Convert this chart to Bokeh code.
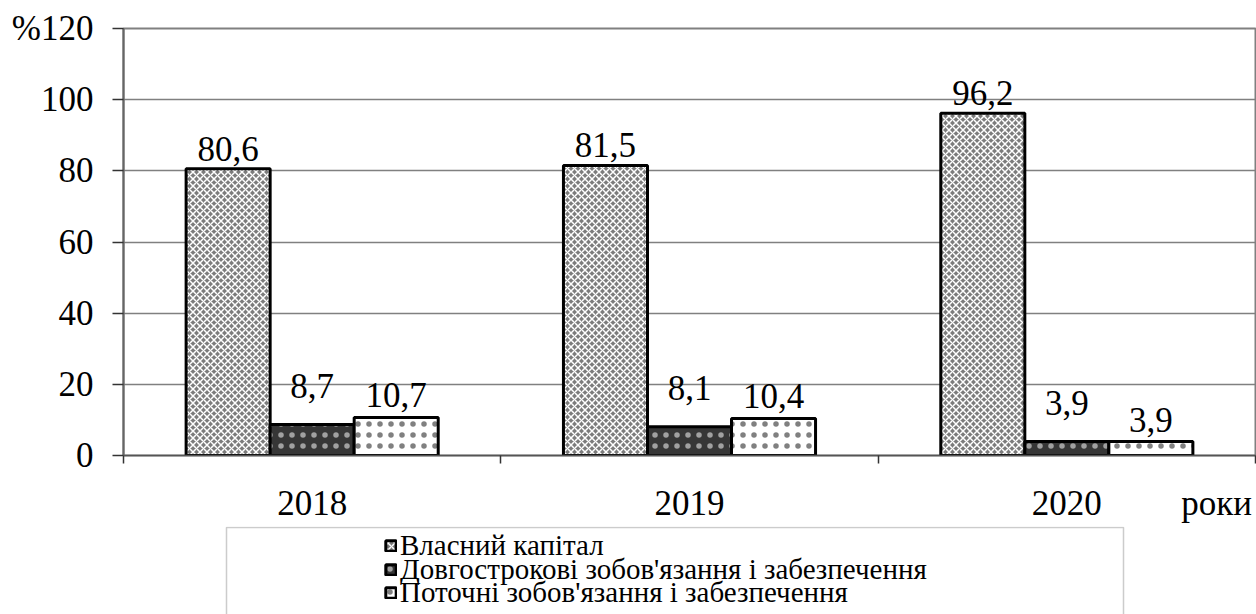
from bokeh.plotting import figure
from bokeh.layouts import column
from bokeh.models import Range1d, FixedTicker, Legend, LegendItem, BoxAnnotation
from bokeh.core.properties import value
from bokeh.embed import file_html
from bokeh.resources import INLINE

# Capital structure shares, %
years = ["2018", "2019", "2020"]
equity = [80.6, 81.5, 96.2]
long_term = [8.7, 8.1, 3.9]
current = [10.7, 10.4, 3.9]
series_names = [
    "Власний капітал",
    "Довгострокові зобов'язання і забезпечення",
    "Поточні зобов'язання і забезпечення",
]
y_ticks = [0, 20, 40, 60, 80, 100, 120]
x_unit_label = "роки"

FONT = "'Liberation Serif', 'Times New Roman', serif"
LEGEND_FONT = "Times New Roman"
GRID = "#808080"

n = len(years)
centers = [i + 0.5 for i in range(n)]
bar_w = 0.2227
unit_pos = n - 0.103  # where the "years" caption sits on the category axis

p = figure(
    width=1256, height=526, output_backend="svg", toolbar_location=None,
    x_range=Range1d(0, n), y_range=Range1d(0, 120),
    min_border_left=123, min_border_right=1, min_border_top=28, min_border_bottom=71,
)
p.background_fill_color = "white"
p.border_fill_color = "white"
p.outline_line_color = GRID
p.outline_line_width = 2

# y axis
p.yaxis.ticker = FixedTicker(ticks=y_ticks)
p.yaxis.major_label_overrides = {y_ticks[-1]: "%" + str(y_ticks[-1])}
p.yaxis.major_label_text_font = FONT
p.yaxis.major_label_text_font_size = "35px"
p.yaxis.major_label_text_color = "black"
p.yaxis.major_label_standoff = 19
p.yaxis.major_tick_out = 11
p.yaxis.major_tick_in = 0
p.yaxis.major_tick_line_color = "#333333"
p.yaxis.major_tick_line_width = 1.5
p.yaxis.minor_tick_line_color = None
p.yaxis.axis_line_color = "#666666"
p.yaxis.axis_line_width = 2

# x axis: labels at the category centres, ticks on the boundaries
p.xaxis.ticker = FixedTicker(ticks=centers + [unit_pos], minor_ticks=list(range(n + 1)))
overrides = {c: y for c, y in zip(centers, years)}
overrides[unit_pos] = x_unit_label
p.xaxis.major_label_overrides = overrides
p.xaxis.major_label_text_font = FONT
p.xaxis.major_label_text_font_size = "35px"
p.xaxis.major_label_text_color = "black"
p.xaxis.major_label_standoff = 20
p.xaxis.major_tick_line_color = None
p.xaxis.major_tick_out = 0
p.xaxis.major_tick_in = 0
p.xaxis.minor_tick_out = 8
p.xaxis.minor_tick_in = 0
p.xaxis.minor_tick_line_color = "#333333"
p.xaxis.minor_tick_line_width = 1.5
p.xaxis.axis_line_color = "#555555"
p.xaxis.axis_line_width = 1.5

p.xgrid.grid_line_color = None
p.ygrid.grid_line_color = GRID
p.ygrid.grid_line_width = 1.5

styles = [
    dict(fill_color="#7c7c7c", hatch_pattern="diagonal_cross", hatch_color="white",
         hatch_scale=7, hatch_weight=1.5),
    dict(fill_color="#363636", hatch_pattern="dot", hatch_color="#a0a0a0",
         hatch_scale=11, hatch_weight=2),
    dict(fill_color="white", hatch_pattern="dot", hatch_color="#808080",
         hatch_scale=11, hatch_weight=2),
]
label_offsets = [-20, -39, -22]
series = [equity, long_term, current]
series_x = [[c + (k - 1) * bar_w for c in centers] for k in range(len(series))]

for xs, vals, st, off in zip(series_x, series, styles, label_offsets):
    p.vbar(x=xs, top=vals, bottom=0, width=bar_w,
           line_color="black", line_width=3, **st)
    p.text(x=xs, y=vals, text=[f"{v:.1f}".replace(".", ",") for v in vals],
           text_font=value(FONT), text_font_size="35px", text_color="black",
           text_align="center", text_baseline="alphabetic", y_offset=off)

# Legend strip under the chart (pixel-scaled ranges)
lg_w, lg_h = 1132, 88
lg = figure(
    width=1256, height=lg_h, output_backend="svg", toolbar_location=None,
    x_range=Range1d(0, lg_w), y_range=Range1d(0, lg_h),
    x_axis_location=None, y_axis_location=None,
    min_border_left=123, min_border_right=1, min_border_top=0, min_border_bottom=0,
)
lg.grid.visible = False
lg.outline_line_color = None
lg.background_fill_color = "white"
lg.border_fill_color = "white"

# legend box, open at the bottom edge of the page
lg.add_layout(BoxAnnotation(left=103, right=1000, top=lg_h - 1, bottom=-20,
                            fill_color=None, line_color="#555555", line_width=1.5))

row_bottoms = [52, 28, 5]
for xs, vals, st, name, yb in zip(series_x, series, styles, series_names, row_bottoms):
    r = lg.vbar(x=xs, top=vals, width=bar_w, line_color="black", line_width=3,
                visible=False, **st)
    lg.add_layout(Legend(
        items=[LegendItem(label=name, renderers=[r])], location=(261, yb),
        label_text_font=LEGEND_FONT, label_text_font_size="29px",
        label_text_color="black", label_height=20,
        glyph_width=13, glyph_height=13, label_standoff=3,
        spacing=0, padding=0, margin=0,
        inactive_fill_alpha=0,
        border_line_alpha=0, background_fill_alpha=0,
    ), "center")

open("out.html", "w").write(file_html(column(p, lg, spacing=0), INLINE))
